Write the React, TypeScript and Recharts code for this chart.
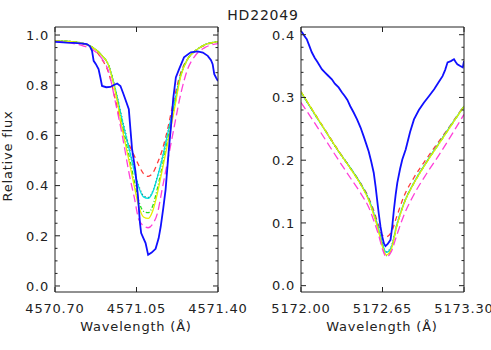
import React from 'react';
import { LineChart, Line, XAxis, YAxis } from 'recharts';

const FONT = '"DejaVu Sans", sans-serif';
const INK = '#222';

// ---- left panel (4571 line) ----
const leftXTicks = [4570.7, 4571.05, 4571.4];
const leftYTicks = [0, 0.05, 0.1, 0.15, 0.2, 0.25, 0.3, 0.35, 0.4, 0.45, 0.5, 0.55, 0.6, 0.65, 0.7, 0.75, 0.8, 0.85, 0.9, 0.95, 1.0];
const leftYLabels = [0, 0.2, 0.4, 0.6, 0.8, 1.0];

const leftObsWave = [4570.7, 4570.72, 4570.75, 4570.78, 4570.81, 4570.837, 4570.85, 4570.859, 4570.866, 4570.875, 4570.887, 4570.895, 4570.902, 4570.92, 4570.938, 4570.955, 4570.967, 4570.981, 4570.992, 4571.002, 4571.017, 4571.024, 4571.031, 4571.045, 4571.056, 4571.065, 4571.07, 4571.08, 4571.089, 4571.1, 4571.115, 4571.132, 4571.145, 4571.154, 4571.165, 4571.175, 4571.19, 4571.197, 4571.208, 4571.219, 4571.233, 4571.254, 4571.283, 4571.312, 4571.335, 4571.356, 4571.37, 4571.377, 4571.384, 4571.392, 4571.4];
const leftObsFlux = [0.973, 0.972, 0.97, 0.969, 0.967, 0.964, 0.955, 0.937, 0.897, 0.885, 0.864, 0.83, 0.797, 0.792, 0.793, 0.802, 0.807, 0.797, 0.77, 0.744, 0.704, 0.624, 0.545, 0.46, 0.36, 0.25, 0.211, 0.19, 0.171, 0.124, 0.133, 0.148, 0.19, 0.237, 0.31, 0.384, 0.557, 0.624, 0.75, 0.831, 0.864, 0.911, 0.931, 0.935, 0.93, 0.917, 0.9, 0.884, 0.844, 0.83, 0.817];

const leftModelWave = [4570.7, 4570.74, 4570.78, 4570.82, 4570.86, 4570.9, 4570.93, 4570.96, 4570.99, 4571.02, 4571.04, 4571.06, 4571.08, 4571.1, 4571.12, 4571.14, 4571.16, 4571.18, 4571.21, 4571.24, 4571.27, 4571.3, 4571.34, 4571.4];
const leftRed = [0.977, 0.975, 0.972, 0.965, 0.95, 0.905, 0.85, 0.74, 0.625, 0.56, 0.52, 0.48, 0.448, 0.437, 0.45, 0.49, 0.54, 0.61, 0.74, 0.85, 0.905, 0.935, 0.958, 0.972];
const leftDotted = [0.977, 0.976, 0.973, 0.967, 0.952, 0.92, 0.88, 0.782, 0.66, 0.545, 0.465, 0.398, 0.36, 0.353, 0.378, 0.438, 0.508, 0.592, 0.716, 0.84, 0.905, 0.935, 0.96, 0.974];
const leftCyan = [0.977, 0.976, 0.973, 0.967, 0.952, 0.92, 0.88, 0.78, 0.655, 0.54, 0.46, 0.393, 0.355, 0.349, 0.375, 0.435, 0.505, 0.59, 0.715, 0.84, 0.905, 0.935, 0.96, 0.974];
const leftGreen = [0.977, 0.976, 0.973, 0.967, 0.952, 0.92, 0.88, 0.775, 0.635, 0.51, 0.42, 0.338, 0.298, 0.292, 0.32, 0.39, 0.475, 0.565, 0.7, 0.84, 0.905, 0.935, 0.96, 0.974];
const leftYellow = [0.977, 0.976, 0.973, 0.967, 0.952, 0.92, 0.88, 0.77, 0.62, 0.49, 0.4, 0.317, 0.275, 0.269, 0.3, 0.37, 0.46, 0.55, 0.69, 0.835, 0.905, 0.935, 0.96, 0.974];
const leftMagenta = [0.975, 0.972, 0.966, 0.957, 0.942, 0.908, 0.855, 0.73, 0.595, 0.44, 0.355, 0.265, 0.24, 0.232, 0.248, 0.29, 0.385, 0.48, 0.625, 0.765, 0.865, 0.915, 0.948, 0.966];

// ---- right panel (5172 line) ----
const rightXTicks = [5172.0, 5172.65, 5173.3];
const rightYTicks = [0, 0.02, 0.04, 0.06, 0.08, 0.1, 0.12, 0.14, 0.16, 0.18, 0.2, 0.22, 0.24, 0.26, 0.28, 0.3, 0.32, 0.34, 0.36, 0.38, 0.4];
const rightYLabels = [0, 0.1, 0.2, 0.3, 0.4];

const rightObsWave = [5172.0, 5172.015, 5172.03, 5172.046, 5172.065, 5172.086, 5172.11, 5172.13, 5172.166, 5172.19, 5172.215, 5172.246, 5172.27, 5172.3, 5172.327, 5172.35, 5172.37, 5172.393, 5172.42, 5172.447, 5172.475, 5172.5, 5172.52, 5172.54, 5172.56, 5172.58, 5172.595, 5172.607, 5172.62, 5172.634, 5172.648, 5172.662, 5172.674, 5172.69, 5172.714, 5172.728, 5172.741, 5172.755, 5172.768, 5172.79, 5172.808, 5172.835, 5172.87, 5172.901, 5172.94, 5172.981, 5173.02, 5173.062, 5173.1, 5173.129, 5173.15, 5173.169, 5173.195, 5173.22, 5173.235, 5173.247, 5173.27, 5173.29, 5173.3];
const rightObsFlux = [0.406, 0.402, 0.397, 0.393, 0.383, 0.372, 0.363, 0.357, 0.345, 0.34, 0.335, 0.329, 0.322, 0.316, 0.308, 0.302, 0.296, 0.286, 0.276, 0.265, 0.252, 0.238, 0.226, 0.214, 0.198, 0.18, 0.158, 0.137, 0.115, 0.094, 0.078, 0.067, 0.063, 0.066, 0.073, 0.095, 0.121, 0.145, 0.164, 0.186, 0.201, 0.217, 0.245, 0.265, 0.28, 0.292, 0.302, 0.313, 0.325, 0.334, 0.344, 0.356, 0.358, 0.361, 0.356, 0.353, 0.35, 0.348, 0.358];

const rightModelWave = [5172.0, 5172.1, 5172.2, 5172.3, 5172.4, 5172.48, 5172.54, 5172.58, 5172.62, 5172.65, 5172.68, 5172.72, 5172.76, 5172.82, 5172.9, 5173.0, 5173.1, 5173.2, 5173.3];
const rightRed = [0.309, 0.277, 0.246, 0.215, 0.186, 0.162, 0.14, 0.12, 0.095, 0.08, 0.078, 0.085, 0.108, 0.142, 0.172, 0.202, 0.23, 0.258, 0.287];
const rightDotted = [0.308, 0.276, 0.245, 0.214, 0.186, 0.161, 0.138, 0.116, 0.09, 0.066, 0.054, 0.062, 0.094, 0.131, 0.164, 0.197, 0.227, 0.257, 0.286];
const rightCyan = [0.308, 0.276, 0.245, 0.214, 0.186, 0.161, 0.138, 0.116, 0.09, 0.066, 0.053, 0.061, 0.094, 0.131, 0.164, 0.197, 0.227, 0.257, 0.286];
const rightGreen = [0.309, 0.277, 0.245, 0.214, 0.185, 0.16, 0.137, 0.114, 0.087, 0.063, 0.048, 0.058, 0.092, 0.13, 0.163, 0.196, 0.226, 0.256, 0.286];
const rightYellow = [0.309, 0.277, 0.245, 0.214, 0.185, 0.16, 0.136, 0.113, 0.086, 0.062, 0.049, 0.058, 0.092, 0.13, 0.163, 0.196, 0.226, 0.256, 0.286];
const rightMagenta = [0.292, 0.262, 0.231, 0.2, 0.17, 0.146, 0.125, 0.104, 0.08, 0.058, 0.046, 0.054, 0.078, 0.112, 0.145, 0.178, 0.208, 0.24, 0.273];

const zip = (w: number[], f: number[]) => w.map((x, i) => ({ w: x, f: f[i] }));

const modelStyles = [
  { key: 'red', stroke: '#ff3b3b', dash: '5 4', width: 1.3 },
  { key: 'dotted', stroke: '#3a3a3a', dash: '1 2.5', width: 1.3 },
  { key: 'cyan', stroke: '#00e0e0', dash: undefined, width: 1.3 },
  { key: 'green', stroke: '#22dd22', dash: '4 2 1 2', width: 1.3 },
  { key: 'yellow', stroke: '#e6ee00', dash: undefined, width: 1.3 },
  { key: 'magenta', stroke: '#ff3fd8', dash: '8 4', width: 1.3 },
];

const isMajor = (v: number, majors: number[]) => majors.some((m) => Math.abs(m - v) < 1e-6);

const makeTick = (side: string, majors: number[], fmt: (v: number) => string, showLabel: boolean) => (props: any) => {
  const { x, y, payload } = props;
  const v = payload.value;
  const major = isMajor(v, majors);
  const len = major ? 5 : 2.5;
  let line = null;
  let label = null;
  if (side === 'left') {
    line = <line x1={x} y1={y} x2={x + len} y2={y} stroke={INK} />;
    if (showLabel && major)
      label = <text x={x - 6} y={y} dy={4.8} textAnchor="end" fill={INK} fontSize={13} fontFamily={FONT} letterSpacing={0.8}>{fmt(v)}</text>;
  } else if (side === 'right') {
    line = <line x1={x} y1={y} x2={x - len} y2={y} stroke={INK} />;
  } else if (side === 'bottom') {
    line = <line x1={x} y1={y} x2={x} y2={y - len} stroke={INK} />;
    if (showLabel)
      label = <text x={x} y={y + 21} textAnchor="middle" fill={INK} fontSize={13} fontFamily={FONT} letterSpacing={0.8}>{fmt(v)}</text>;
  } else {
    line = <line x1={x} y1={y} x2={x} y2={y + len} stroke={INK} />;
  }
  return (
    <g>
      {line}
      {label}
    </g>
  );
};

interface PanelProps {
  left: number;
  width: number;
  plotLeft: number;
  plotRight: number;
  xDomain: [number, number];
  xTicks: number[];
  yDomain: [number, number];
  yTicks: number[];
  yLabels: number[];
  obs: { w: number; f: number }[];
  models: { w: number; f: number }[][];
}

const Panel: React.FC<PanelProps> = ({ left, width, plotLeft, plotRight, xDomain, xTicks, yDomain, yTicks, yLabels, obs, models }) => {
  const fx = (v: number) => v.toFixed(2);
  const fy = (v: number) => v.toFixed(1);
  // axes get 1px of room each; plot box ends up at top 28 / bottom 292
  return (
    <div style={{ position: 'absolute', left, top: 0 }}>
      <LineChart width={width} height={350} margin={{ top: 27, right: width - plotRight - 1, bottom: 57, left: 0 }}>
        <XAxis xAxisId="b" type="number" dataKey="w" domain={xDomain} ticks={xTicks} allowDataOverflow height={1} orientation="bottom"
          interval={0} tickSize={0} tickMargin={0} axisLine={{ stroke: INK }} tickLine={false} tick={makeTick('bottom', xTicks, fx, true)} />
        <XAxis xAxisId="t" type="number" dataKey="w" domain={xDomain} ticks={xTicks} allowDataOverflow height={1} orientation="top"
          interval={0} tickSize={0} tickMargin={0} mirror axisLine={{ stroke: INK }} tickLine={false} tick={makeTick('top', xTicks, fx, false)} />
        <YAxis yAxisId="l" type="number" dataKey="f" domain={yDomain} ticks={yTicks} allowDataOverflow width={plotLeft} orientation="left"
          interval={0} tickSize={0} tickMargin={0} axisLine={{ stroke: INK }} tickLine={false} tick={makeTick('left', yLabels, fy, true)} />
        <YAxis yAxisId="r" type="number" dataKey="f" domain={yDomain} ticks={yTicks} allowDataOverflow width={1} orientation="right"
          interval={0} tickSize={0} tickMargin={0} mirror axisLine={{ stroke: INK }} tickLine={false} tick={makeTick('right', yLabels, fy, false)} />
        {models.map((m, i) => (
          <Line key={modelStyles[i].key} xAxisId="b" yAxisId="l" data={m} dataKey="f" type="monotone" stroke={modelStyles[i].stroke}
            strokeWidth={modelStyles[i].width} strokeDasharray={modelStyles[i].dash} dot={false} isAnimationActive={false} />
        ))}
        <Line xAxisId="b" yAxisId="l" data={obs} dataKey="f" type="linear" stroke="#1010ff" strokeWidth={1.8} dot={false} isAnimationActive={false} />
      </LineChart>
    </div>
  );
};

export default function App() {
  const leftModels = [leftRed, leftDotted, leftCyan, leftGreen, leftYellow, leftMagenta].map((f) => zip(leftModelWave, f));
  const rightModels = [rightRed, rightDotted, rightCyan, rightGreen, rightYellow, rightMagenta].map((f) => zip(rightModelWave, f));
  return (
    <div style={{ position: 'absolute', left: 0, top: 0, width: 491, height: 350, background: '#fff', overflow: 'hidden' }}>
      <Panel left={0} width={265} plotLeft={55} plotRight={217} xDomain={[4570.7, 4571.4]} xTicks={leftXTicks}
        yDomain={[-0.024, 1.032]} yTicks={leftYTicks} yLabels={leftYLabels} obs={zip(leftObsWave, leftObsFlux)} models={leftModels} />
      <Panel left={250} width={241} plotLeft={51} plotRight={213} xDomain={[5172.0, 5173.3]} xTicks={rightXTicks}
        yDomain={[-0.0101, 0.4123]} yTicks={rightYTicks} yLabels={rightYLabels} obs={zip(rightObsWave, rightObsFlux)} models={rightModels} />
      <svg width={491} height={350} style={{ position: 'absolute', left: 0, top: 0, pointerEvents: 'none' }}>
        <text x={263} y={20} textAnchor="middle" fill={INK} fontSize={14} fontFamily={FONT} letterSpacing={0.8}>HD22049</text>
        <text x={136} y={331} textAnchor="middle" fill={INK} fontSize={13} fontFamily={FONT} letterSpacing={0.8}>Wavelength (Å)</text>
        <text x={382} y={331} textAnchor="middle" fill={INK} fontSize={13} fontFamily={FONT} letterSpacing={0.8}>Wavelength (Å)</text>
        <text transform="translate(12,156) rotate(-90)" textAnchor="middle" fill={INK} fontSize={13} fontFamily={FONT} letterSpacing={0.8}>Relative flux</text>
      </svg>
    </div>
  );
}
